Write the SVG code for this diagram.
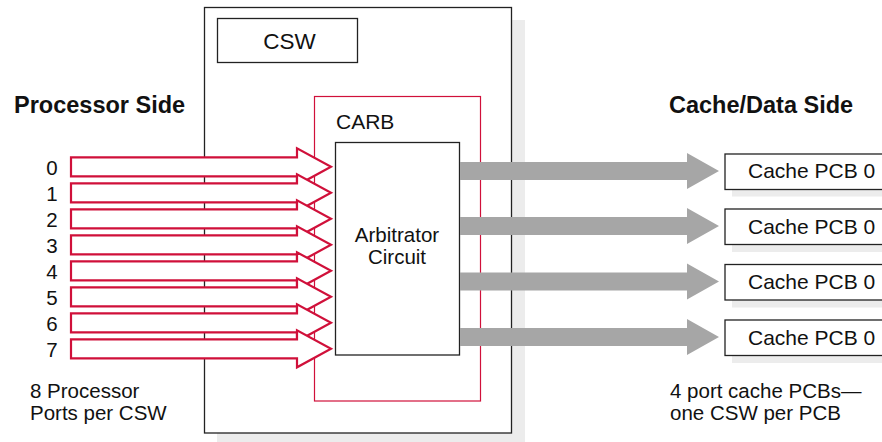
<svg xmlns="http://www.w3.org/2000/svg" width="882" height="442" viewBox="0 0 882 442">
<style>
text{font-family:"Liberation Sans",Arial,sans-serif;fill:#111}
.lbl{font-size:20.5px}
.hd{font-size:23.5px;font-weight:bold}
.box{fill:#fff;stroke:#222;stroke-width:1.3}
.shadow{fill:#ececec}
.red{fill:#fff;stroke:#d0103a;stroke-width:2.2;stroke-linejoin:miter}
.gray{fill:#a6a6a6}
</style>
<rect width="882" height="442" fill="#fff"/>
<g id="csw">
<rect class="shadow" x="217" y="20" width="308" height="422"/>
<rect class="box" x="204.5" y="7.5" width="307" height="425.5"/>
</g>
<g id="csw-label">
<rect class="box" x="217.5" y="18.5" width="140" height="44"/>
<text x="289.5" y="48.5" text-anchor="middle" font-size="22.5">CSW</text>
</g>
<g id="carb">
<rect x="314.5" y="96.5" width="166" height="304.5" fill="none" stroke="#d0103a" stroke-width="1.2"/>
<text x="336" y="128.5" font-size="21">CARB</text>
</g>
<g id="arbitrator">
<rect class="box" x="335.5" y="142.5" width="124" height="212.5"/>
<text class="lbl" x="397" y="241.5" text-anchor="middle">Arbitrator</text>
<text class="lbl" x="397" y="263.5" text-anchor="middle">Circuit</text>
</g>
<g id="connectors">
<path class="red" d="M71,157.3H297V148.3L331,166.8L297,185.3V176.3H71Z"/>
<path class="red" d="M71,183.3H297V174.3L331,192.8L297,211.3V202.3H71Z"/>
<path class="red" d="M71,209.3H297V200.3L331,218.8L297,237.3V228.3H71Z"/>
<path class="red" d="M71,235.3H297V226.3L331,244.8L297,263.3V254.3H71Z"/>
<path class="red" d="M71,261.3H297V252.3L331,270.8L297,289.3V280.3H71Z"/>
<path class="red" d="M71,287.3H297V278.3L331,296.8L297,315.3V306.3H71Z"/>
<path class="red" d="M71,313.3H297V304.3L331,322.8L297,341.3V332.3H71Z"/>
<path class="red" d="M71,339.3H297V330.3L331,348.8L297,367.3V358.3H71Z"/>
<path class="gray" d="M460,162H687V153L719,171L687,189V180H460Z"/>
<path class="gray" d="M460,217H687V208L719,226L687,244V235H460Z"/>
<path class="gray" d="M460,272.5H687V263.5L719,281.5L687,299.5V290.5H460Z"/>
<path class="gray" d="M460,328H687V319L719,337L687,355V346H460Z"/>
</g>
<g id="ports">
<text class="lbl" x="52" y="174.5" text-anchor="middle">0</text>
<text class="lbl" x="52" y="200.5" text-anchor="middle">1</text>
<text class="lbl" x="52" y="226.5" text-anchor="middle">2</text>
<text class="lbl" x="52" y="252.5" text-anchor="middle">3</text>
<text class="lbl" x="52" y="278.5" text-anchor="middle">4</text>
<text class="lbl" x="52" y="304.5" text-anchor="middle">5</text>
<text class="lbl" x="52" y="330.5" text-anchor="middle">6</text>
<text class="lbl" x="52" y="356.5" text-anchor="middle">7</text>
</g>
<g id="pcb0">
<rect class="shadow" x="732" y="160" width="150" height="36.5"/>
<rect class="box" x="725" y="154" width="160" height="35.5"/>
<text x="748" y="178.3" font-size="21">Cache PCB 0</text>
</g>
<g id="pcb1">
<rect class="shadow" x="732" y="215.5" width="150" height="36.5"/>
<rect class="box" x="725" y="209" width="160" height="35.5"/>
<text x="748" y="233.5" font-size="21">Cache PCB 0</text>
</g>
<g id="pcb2">
<rect class="shadow" x="732" y="271" width="150" height="36.5"/>
<rect class="box" x="725" y="264.5" width="160" height="35.5"/>
<text x="748" y="289" font-size="21">Cache PCB 0</text>
</g>
<g id="pcb3">
<rect class="shadow" x="732" y="326.5" width="150" height="36.5"/>
<rect class="box" x="725" y="320" width="160" height="35.5"/>
<text x="748" y="344.5" font-size="21">Cache PCB 0</text>
</g>
<g id="titles">
<text class="hd" x="14" y="113.3">Processor Side</text>
<text class="hd" x="669" y="113.3">Cache/Data Side</text>
<text class="lbl" x="30" y="398.3">8 Processor</text>
<text class="lbl" x="30" y="420">Ports per CSW</text>
<text class="lbl" x="670" y="398.3">4 port cache PCBs—</text>
<text class="lbl" x="670" y="420">one CSW per PCB</text>
</g>
</svg>
